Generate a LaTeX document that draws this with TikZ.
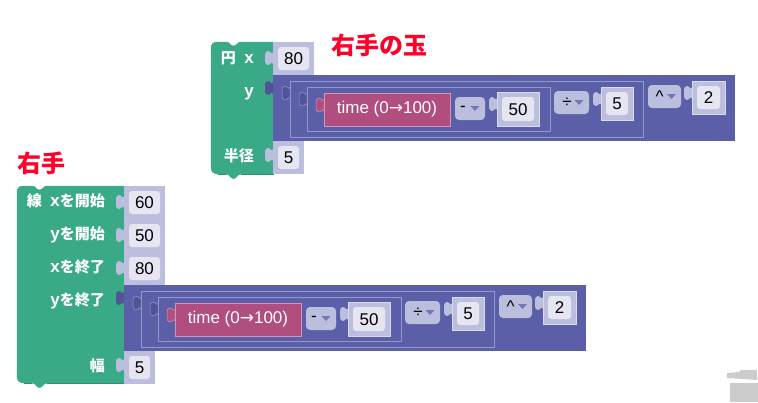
\documentclass[tikz,border=0pt]{standalone}
\usepackage{fontspec}
\setmainfont{Liberation Sans}
\newfontfamily\jpfont{Noto Sans CJK JP}
\newfontfamily\arrowfont{DejaVu Sans}
\definecolor{blockgreen}{HTML}{3AA988}
\definecolor{greenedge}{HTML}{2C8F72}
\definecolor{mathblue}{HTML}{5B5FA7}
\definecolor{mathtab}{HTML}{505496}
\definecolor{frameline}{HTML}{9598CC}
\definecolor{boxblue}{HTML}{BCBEDD}
\definecolor{boxedge}{HTML}{DADBEE}
\definecolor{boxwhite}{HTML}{E5E6F2}
\definecolor{timered}{HTML}{AF4E7F}
\definecolor{timeedge}{HTML}{D596B6}
\definecolor{titlered}{HTML}{FF0028}
\definecolor{trashgray}{HTML}{CCCCCC}
\tikzset{
  greenblock/.style={fill=blockgreen,draw=blockgreen,line width=0.5pt},
  framebox/.style={draw=frameline,line width=0.8pt},
  valueback/.style={fill=boxblue},
  exprback/.style={fill=boxblue,draw=boxedge,line width=0.5pt},
  valuetext/.style={fill=boxwhite,rounded corners=3pt,text=black,font=\fontsize{17}{17}\selectfont,
    inner sep=0pt,text height=12pt,text depth=0pt},
  whitelabel/.style={text=white,font=\fontsize{15}{15}\jpfont\bfseries,inner sep=0pt,anchor=base east},
  titletext/.style={text=titlered,font=\fontsize{24}{24}\jpfont\bfseries,inner sep=0pt,anchor=base west},
  droptri/.style={fill=mathblue!85!white},
}
% puzzle tab, its right end on the block edge: options, x, top
\newcommand{\puzzletab}[3]{%
  \path[#1] (#2,#3+1.5) .. controls (#2-1,#3+2.5) and (#2-2,#3+3) .. (#2-3,#3+0.8)
    .. controls (#2-4,#3) and (#2-5,#3) .. (#2-5.5,#3)
    .. controls (#2-7.5,#3) and (#2-8,#3+2) .. (#2-8,#3+7)
    .. controls (#2-8,#3+12) and (#2-7.5,#3+14) .. (#2-5.5,#3+14)
    .. controls (#2-5,#3+14) and (#2-4,#3+14) .. (#2-3,#3+13.2)
    .. controls (#2-2,#3+11) and (#2-1,#3+11.5) .. (#2,#3+12.5) -- cycle;}
% green body: left, top, right, bottom, notch left
\newcommand{\greenbody}[5]{%
  \draw[greenblock] (#1+6,#2) -- (#5,#2) .. controls (#5+4,#2) and (#5+4,#2+4) .. (#5+7.5,#2+4)
    .. controls (#5+11,#2+4) and (#5+11,#2) .. (#5+15,#2) -- (#3,#2) -- (#3,#4) -- (#5+15,#4)
    .. controls (#5+11,#4) and (#5+11,#4+4.5) .. (#5+7.5,#4+4.5)
    .. controls (#5+4,#4+4.5) and (#5+4,#4) .. (#5,#4) -- (#1+7,#4)
    .. controls (#1+2.5,#4) and (#1,#4-2.5) .. (#1,#4-7) -- (#1,#2+6)
    .. controls (#1,#2+2.5) and (#1+2.5,#2) .. (#1+6,#2) -- cycle;
  \draw[greenedge,line width=0.7pt] (#1+7,#4) -- (#5,#4) (#5+15,#4) -- (#3,#4);}
% value block: name, left, top, width, height, text
\newcommand{\valueslot}[6]{%
  \fill[valueback] (#2,#3) rectangle ++(#4,#5);
  \node[valuetext,minimum width=#4pt-10pt,minimum height=#5pt-10pt] (#1) at (#2+#4/2,#3+#5/2) {#6};}
\newcommand{\exprslot}[6]{%
  \fill[exprback] (#2,#3) rectangle ++(#4,#5);
  \puzzletab{fill=boxblue}{#2}{#3+5}
  \node[valuetext,minimum width=#4pt-10pt,minimum height=#5pt-10pt] (#1) at (#2+#4/2,#3+#5/2) {#6};}
% operator drop-down: name, left, top, width, sign, triangle x
\newcommand{\opdrop}[6]{%
  \fill[boxblue,rounded corners=4pt] (#2,#3) rectangle ++(#4,23);
  \node[text=black,inner sep=0pt,font=\fontsize{17}{17}\selectfont] (#1) at (#6-12,#3+11.5) {#5};
  \fill[droptri] (#6-4.5,#3+9) -- (#6+4.5,#3+9) -- (#6,#3+14) -- cycle;}
\newcommand{\latinpart}[1]{{\fontsize{17}{17}\rmfamily #1}}
\begin{document}
\begin{tikzpicture}[x=1pt,y=-1pt]
  \useasboundingbox (0,0) rectangle (758,402);

  \node[titletext] (titleball) at (331,54) {右手の玉};
  \node[titletext] (titlehand) at (17,172) {右手};

  % upper block
  \greenbody{211}{42}{273.5}{174}{226}
  \node[whitelabel] (circlelabel) at (236,63) {円};
  \node[whitelabel] (xlabel) at (254,63) {\latinpart{x}};
  \node[whitelabel] (ylabel) at (254,96) {\latinpart{y}};
  \node[whitelabel] (radiuslabel) at (254,161) {半径};
  \puzzletab{fill=boxblue}{273}{51}
  \valueslot{xvalue}{273}{42}{41}{33}{80}
  \puzzletab{fill=boxblue}{273}{148}
  \valueslot{radiusvalue}{273}{141}{31}{33}{5}

  % lower block
  \greenbody{17}{186}{124.5}{383}{32}
  \node[whitelabel] (linelabel) at (42,206) {線};
  \node[whitelabel] (xstartlabel) at (105,206) {\latinpart{x}を開始};
  \node[whitelabel] (ystartlabel) at (105,239) {\latinpart{y}を開始};
  \node[whitelabel] (xendlabel) at (105,272) {\latinpart{x}を終了};
  \node[whitelabel] (yendlabel) at (105,305) {\latinpart{y}を終了};
  \node[whitelabel] (widthlabel) at (105,371) {幅};
  \foreach \rowtop/\rowname/\rowval in {186/xstart/60,219/ystart/50,252/xend/80} {
    \puzzletab{fill=boxblue}{124}{\rowtop+9}
    \valueslot{\rowname}{124}{\rowtop}{41}{33}{\rowval}
  }
  \puzzletab{fill=boxblue}{124}{358}
  \valueslot{widthvalue}{124}{351}{31}{33}{5}

  % same expression in both blocks
  \foreach \rowname/\dx/\dy in {upper/0/0,lower/-149/210} {
    \begin{scope}[shift={(\dx,\dy)}]
      \puzzletab{fill=mathtab}{273}{81}
      \fill[mathblue] (273,75) rectangle (735,141);
      \draw[framebox] (290,81) rectangle (643,137);
      \puzzletab{fill=mathtab,draw=frameline,line width=0.5pt}{290}{86}
      \draw[framebox] (307,87) rectangle (550,131.5);
      \puzzletab{fill=mathtab,draw=frameline,line width=0.5pt}{307}{92}
      \puzzletab{fill=timered,draw=timeedge,line width=0.5pt}{324}{98}
      \node[fill=timered,draw=timeedge,line width=0.5pt,text=white,minimum width=126pt,minimum height=33pt,
        inner sep=0pt,font=\fontsize{17}{17}\selectfont] (\rowname time) at (387,109.5) {time (0{\arrowfont→}100)};
      \opdrop{\rowname minus}{455}{97}{30}{-}{475}
      \exprslot{\rowname fifty}{497}{92}{42}{34}{50}
      \opdrop{\rowname div}{554}{91}{35}{÷}{579}
      \exprslot{\rowname five}{601}{87}{32}{33}{5}
      \opdrop{\rowname pow}{648}{85}{33}{\^{}}{671.5}
      \exprslot{\rowname two}{692}{81}{33}{33}{2}
    \end{scope}
  }

  % trash can, cut off by the corner
  \fill[trashgray] (727,373) -- (739,372) -- (741,370) -- (757,370) -- (757,380) -- (727,378) -- cycle;
  \fill[trashgray] (730,383) rectangle (758,402);
\end{tikzpicture}
\end{document}
